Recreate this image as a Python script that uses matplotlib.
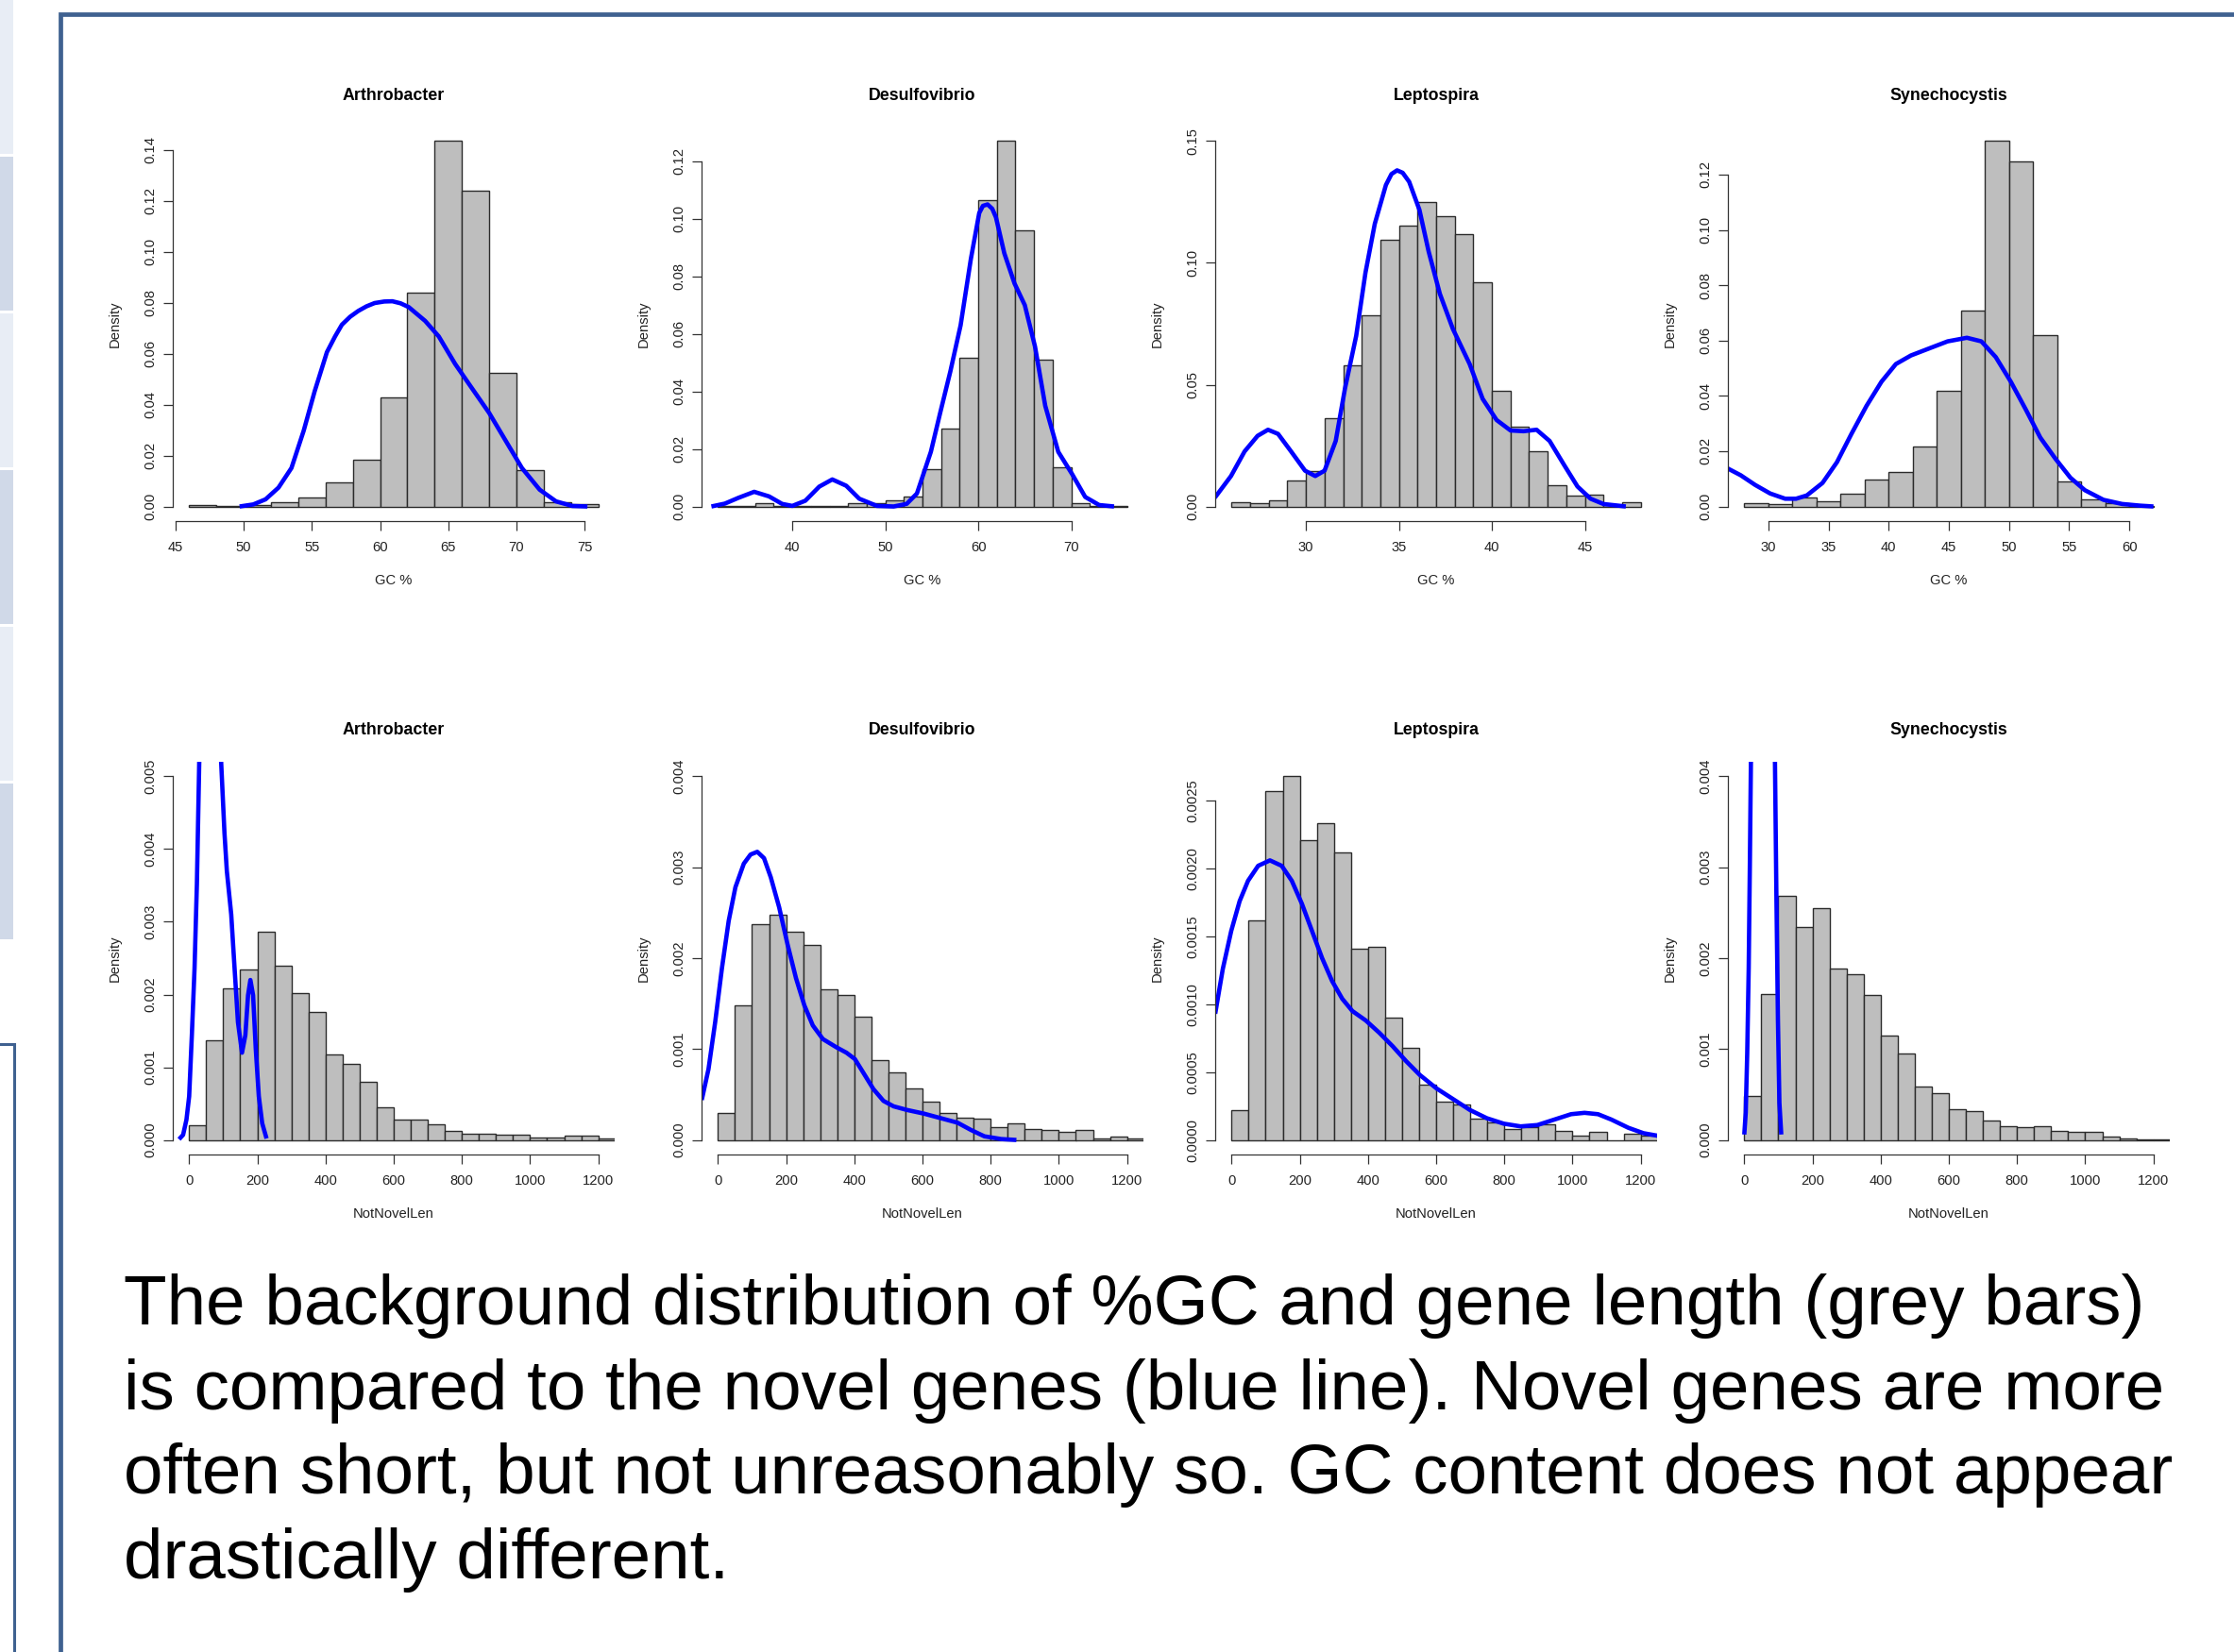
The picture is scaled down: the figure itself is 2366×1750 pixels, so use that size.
import matplotlib
matplotlib.use('Agg')
import matplotlib.pyplot as plt
from matplotlib.patches import Rectangle

plt.rcParams['font.family'] = ['Liberation Sans', 'DejaVu Sans']

W, H = 2366, 1750

organisms = ['Arthrobacter', 'Desulfovibrio', 'Leptospira', 'Synechocystis']

# ---------------- GC % (top row) ----------------
arth_gc_start, arth_gc_bin = 46, 2
arth_gc_dens = [0.0005, 0.0002, 0.0005, 0.0018, 0.0034, 0.0094, 0.0183, 0.0427,
                0.084, 0.1435, 0.124, 0.0526, 0.0143, 0.0017, 0.0008]
arth_gc_nov_x = [49.7, 50.7, 51.6, 52.55, 53.5, 54.4, 55.2, 56.1, 56.7, 57.2, 57.8,
                 58.4, 59.0, 59.6, 60.3, 60.9, 61.5, 62.1, 63.3, 64.3, 65.5, 66.7,
                 68.0, 69.2, 70.4, 71.7, 72.9, 74.1, 75.2]
arth_gc_nov_y = [0, 0.0008, 0.0028, 0.0074, 0.0151, 0.0298, 0.0452, 0.0606, 0.0668,
                 0.0714, 0.0745, 0.0768, 0.0786, 0.0799, 0.0805, 0.0806, 0.0798,
                 0.0783, 0.0729, 0.0668, 0.056, 0.0467, 0.0367, 0.0259, 0.0151,
                 0.0066, 0.002, 0.0002, 0]

desu_gc_start, desu_gc_bin = 32, 2
desu_gc_dens = [0.0001, 0.0003, 0.001, 0.0003, 0.0003, 0.0003, 0.0002, 0.001,
                0.0012, 0.0023, 0.0035, 0.013, 0.0272, 0.0517, 0.1065, 0.127,
                0.096, 0.051, 0.0136, 0.0011, 0.0002, 0.0003]
desu_gc_nov_x = [31.3, 32.75, 34.2, 35.9, 37.5, 38.9, 40.0, 41.4, 42.9, 44.3, 45.8,
                 47.2, 49.1, 50.9, 52.3, 53.4, 54.9, 55.9, 57.0, 58.1, 59.2, 60.1,
                 60.5, 61.0, 61.5, 61.9, 62.8, 63.9, 65.0, 66.1, 67.2, 68.6, 70.1,
                 71.5, 73.0, 74.6]
desu_gc_nov_y = [0, 0.001, 0.003, 0.0051, 0.0035, 0.0009, 0.0002, 0.002, 0.0069,
                 0.0094, 0.0072, 0.0027, 0.0002, 0.0, 0.0009, 0.0045, 0.019, 0.0325,
                 0.047, 0.063, 0.086, 0.102, 0.1045, 0.105, 0.1035, 0.1005, 0.088,
                 0.0775, 0.070, 0.0556, 0.035, 0.019, 0.0112, 0.0033, 0.0005, 0]

lept_gc_start, lept_gc_bin = 26, 1
lept_gc_dens = [0.0017, 0.0013, 0.0027, 0.0106, 0.0144, 0.0364, 0.058, 0.0784,
                0.1094, 0.1152, 0.125, 0.119, 0.1117, 0.0919, 0.0473, 0.0329,
                0.0226, 0.0089, 0.0046, 0.0047, 0.0004, 0.0017]
lept_gc_nov_x = [25.1, 25.97, 26.7, 27.4, 27.96, 28.5, 29.2, 29.95, 30.5, 31.0, 31.6,
                 32.1, 32.7, 33.2, 33.7, 34.3, 34.6, 34.9, 35.2, 35.55, 36.1, 36.6,
                 37.2, 37.9, 38.8, 39.5, 40.25, 41.0, 41.7, 42.4, 43.1, 43.9, 44.6,
                 45.3, 46.0, 47.2]
lept_gc_nov_y = [0.0036, 0.0125, 0.0226, 0.029, 0.0315, 0.0298, 0.0226, 0.0147,
                 0.0125, 0.0147, 0.0269, 0.0485, 0.070, 0.096, 0.116, 0.132, 0.1365,
                 0.138, 0.137, 0.1333, 0.1218, 0.1046, 0.0873, 0.0729, 0.0585,
                 0.0442, 0.0355, 0.0312, 0.0309, 0.0315, 0.0269, 0.0168, 0.0082,
                 0.0032, 0.001, 0]

syne_gc_start, syne_gc_bin = 28, 2
syne_gc_dens = [0.0013, 0.001, 0.0032, 0.002, 0.0047, 0.0099, 0.0123, 0.0217,
                0.0419, 0.0709, 0.1321, 0.1249, 0.062, 0.009, 0.0025, 0.0013, 0.0003]
syne_gc_nov_x = [26.6, 27.7, 28.9, 30.15, 31.4, 32.3, 33.2, 34.5, 35.7, 36.9, 38.15,
                 39.4, 40.6, 41.85, 43.4, 44.9, 46.5, 47.7, 48.9, 50.15, 51.4, 52.6,
                 53.85, 55.1, 56.3, 57.85, 59.4, 60.9, 62.0]
syne_gc_nov_y = [0.0138, 0.0113, 0.0078, 0.0047, 0.0028, 0.0028, 0.004, 0.0085,
                 0.016, 0.0262, 0.0363, 0.0451, 0.0515, 0.0546, 0.0572, 0.0597,
                 0.061, 0.0597, 0.054, 0.0451, 0.035, 0.0249, 0.0173, 0.0104,
                 0.0059, 0.0024, 0.0009, 0.0003, 0]

# ---------------- NotNovelLen (bottom row) ----------------
len_start, len_bin = 0, 50

arth_len_dens = [0.0002, 0.00137, 0.00209, 0.00234, 0.00286, 0.0024, 0.00202,
                 0.00176, 0.00117, 0.00104, 0.0008, 0.00045, 0.00028, 0.00028,
                 0.00022, 0.000125, 0.00009, 0.00009, 0.00007, 0.000075, 0.00003,
                 0.00003, 0.000055, 0.00006, 0.00002]
arth_len_nov_x = [-29.6, -17.8, -7.9, 0, 7.9, 15.8, 22.7, 29.6, 45, 60, 75, 93.8,
                  103.6, 110.5, 123.4, 133.2, 143.1, 155, 164.8, 172.7, 179.6,
                  187.5, 195.4, 204.3, 214.2, 227]
arth_len_nov_y = [0.00001, 0.00007, 0.00028, 0.0006, 0.00144, 0.00236, 0.00352,
                  0.00521, 0.0072, 0.0078, 0.0068, 0.0052, 0.00422, 0.0037, 0.0031,
                  0.00236, 0.00162, 0.0012, 0.00144, 0.00199, 0.0022, 0.00199,
                  0.00125, 0.0006, 0.00023, 0.00002]

desu_len_dens = [0.0003, 0.00148, 0.00237, 0.00248, 0.00229, 0.00215, 0.00166,
                 0.00159, 0.00136, 0.00088, 0.00074, 0.00057, 0.00042, 0.0003,
                 0.00025, 0.00023, 0.00014, 0.00018, 0.00012, 0.00011, 0.000085,
                 0.00011, 0.00002, 0.00004, 0.00002]
desu_len_nov_x = [-47.4, -27.6, -7.9, 11.8, 31.6, 51.3, 76, 95.7, 115.5, 135.2, 155,
                  179.6, 204.3, 229, 253.6, 278.3, 307.9, 347.4, 377, 401.7, 426.4,
                  456, 485.5, 515.2, 554.6, 604, 653.3, 702.7, 742.2, 781.6, 831,
                  875.4]
desu_len_nov_y = [0.00044, 0.00078, 0.0013, 0.00189, 0.00241, 0.00278, 0.00304,
                  0.00314, 0.00317, 0.0031, 0.00289, 0.00256, 0.00215, 0.00178,
                  0.00148, 0.00126, 0.00111, 0.00102, 0.00096, 0.00089, 0.00074,
                  0.00056, 0.00043, 0.00037, 0.00033, 0.00029, 0.00024, 0.00019,
                  0.00011, 0.00004, 0.00001, 0]

lept_len_dens = [0.000218, 0.00162, 0.002574, 0.002679, 0.002212, 0.002331,
                 0.002116, 0.001409, 0.001421, 0.000898, 0.00068, 0.000407,
                 0.000285, 0.00026, 0.000154, 0.000129, 0.000084, 0.000094,
                 0.000114, 0.000067, 0.00003, 0.000057, 0.0, 0.000045, 0.00003]
lept_len_nov_x = [-48, -25.7, -1, 23.7, 48.4, 78, 112.5, 147, 176.6, 206.3, 235.9,
                  265.5, 295, 324.7, 354.3, 393.8, 433.2, 472.7, 512.2, 551.7, 601,
                  650.3, 699.7, 749, 798.4, 847.7, 897, 946.4, 995.7, 1035.2,
                  1074.7, 1114.2, 1163.5, 1208, 1252]
lept_len_nov_y = [0.00093, 0.00126, 0.00154, 0.00176, 0.00191, 0.00202, 0.00206,
                  0.00202, 0.00191, 0.00174, 0.00154, 0.00134, 0.00117, 0.00104,
                  0.00095, 0.00088, 0.00079, 0.00069, 0.00058, 0.00048, 0.00038,
                  0.0003, 0.00022, 0.00016, 0.00012, 0.0001, 0.00011, 0.00015,
                  0.00019, 0.0002, 0.00019, 0.00015, 0.00009, 0.00005, 0.00003]

syne_len_dens = [0.00048, 0.00161, 0.00269, 0.00234, 0.00255, 0.00189, 0.00182,
                 0.00159, 0.00115, 0.00095, 0.00059, 0.00051, 0.00034, 0.00032,
                 0.00021, 0.00015, 0.00014, 0.00015, 0.0001, 0.000085, 0.000085,
                 0.00004, 0.00002, 0.000005, 0.000005]
syne_len_nov_x = [0, 4.3, 8.7, 13, 16.3, 19.5, 30, 55, 80, 90, 94.4, 98.7, 103, 108.5]
syne_len_nov_y = [0.00006, 0.0003, 0.00096, 0.00189, 0.003, 0.00417, 0.0075, 0.0105,
                  0.0075, 0.00417, 0.00263, 0.00133, 0.00041, 0.00006]

# axis ticks and labels (R-style)
gc_xticks = [[45, 50, 55, 60, 65, 70, 75], [40, 50, 60, 70],
             [30, 35, 40, 45], [30, 35, 40, 45, 50, 55, 60]]
gc_yticks = [[0, 0.02, 0.04, 0.06, 0.08, 0.10, 0.12, 0.14],
             [0, 0.02, 0.04, 0.06, 0.08, 0.10, 0.12],
             [0, 0.05, 0.10, 0.15],
             [0, 0.02, 0.04, 0.06, 0.08, 0.10, 0.12]]
gc_ylabels = [['0.00', '0.02', '0.04', '0.06', '0.08', '0.10', '0.12', '0.14'],
              ['0.00', '0.02', '0.04', '0.06', '0.08', '0.10', '0.12'],
              ['0.00', '0.05', '0.10', '0.15'],
              ['0.00', '0.02', '0.04', '0.06', '0.08', '0.10', '0.12']]
gc_ytop = [0.1435, 0.127, 0.15, 0.1321]

len_xticks = [0, 200, 400, 600, 800, 1000, 1200]
len_xlim = (0, 1200)
len_yticks = [[0, 0.001, 0.002, 0.003, 0.004, 0.005],
              [0, 0.001, 0.002, 0.003, 0.004],
              [0, 0.0005, 0.001, 0.0015, 0.002, 0.0025],
              [0, 0.001, 0.002, 0.003, 0.004]]
len_ylabels = [['0.000', '0.001', '0.002', '0.003', '0.004', '0.005'],
               ['0.000', '0.001', '0.002', '0.003', '0.004'],
               ['0.0000', '0.0005', '0.0010', '0.0015', '0.0020', '0.0025'],
               ['0.000', '0.001', '0.002', '0.003', '0.004']]
len_ytop = [0.005, 0.004, 0.002679, 0.004]

caption = ["The background distribution of %GC and gene length (grey bars)",
           "is compared to the novel genes (blue line). Novel genes are more",
           "often short, but not unreasonably so. GC content does not appear",
           "drastically different."]

gc_panels = [
    (arth_gc_start, arth_gc_bin, arth_gc_dens, arth_gc_nov_x, arth_gc_nov_y),
    (desu_gc_start, desu_gc_bin, desu_gc_dens, desu_gc_nov_x, desu_gc_nov_y),
    (lept_gc_start, lept_gc_bin, lept_gc_dens, lept_gc_nov_x, lept_gc_nov_y),
    (syne_gc_start, syne_gc_bin, syne_gc_dens, syne_gc_nov_x, syne_gc_nov_y),
]
len_panels = [
    (arth_len_dens, arth_len_nov_x, arth_len_nov_y),
    (desu_len_dens, desu_len_nov_x, desu_len_nov_y),
    (lept_len_dens, lept_len_nov_x, lept_len_nov_y),
    (syne_len_dens, syne_len_nov_x, syne_len_nov_y),
]

fig = plt.figure(figsize=(W / 100, H / 100), dpi=100)
fig.patch.set_facecolor('white')

# slide decoration layer in pixel coordinates
bg = fig.add_axes([0, 0, 1, 1], zorder=-5)
bg.set_xlim(0, W)
bg.set_ylim(H, 0)
bg.axis('off')
frame_col = '#3f6190'
strips = [(0, 163), (166, 329), (332, 495), (498, 661), (664, 827), (830, 995)]
for i, (y0, y1) in enumerate(strips):
    bg.add_patch(Rectangle((0, y0), 14, y1 - y0, lw=0,
                           color='#e8edf5' if i % 2 == 0 else '#d0d9e8'))
bg.plot([W + 5, 64, 64], [15, 15, H + 5], color=frame_col, lw=3.4,
        solid_joinstyle='miter')
bg.plot([-5, 15, 15], [1106, 1106, H + 5], color=frame_col, lw=2.2,
        solid_joinstyle='miter')
for i, line in enumerate(caption):
    bg.text(131, 1403 + i * 89.6, line, fontsize=53.7, color='black',
            ha='left', va='baseline')

lefts = [183, 743, 1287, 1830]
pw = 468
rows = [(134, 418), (807, 416)]


def style_axes(ax, xticks, yticks, ylabels, xlabel, ph):
    for s in ['top', 'right']:
        ax.spines[s].set_visible(False)
    for s in ['left', 'bottom']:
        ax.spines[s].set_color('#333333')
        ax.spines[s].set_linewidth(0.9)
    ax.spines['left'].set_bounds(yticks[0], yticks[-1])
    ax.spines['bottom'].set_bounds(xticks[0], xticks[-1])
    ax.set_xticks(xticks, labels=[str(t) for t in xticks])
    ax.set_yticks(yticks, labels=ylabels)
    ax.tick_params(axis='both', direction='out', length=7.2, width=0.9,
                   color='#333333', labelsize=10.6, labelcolor='#222222')
    ax.tick_params(axis='x', pad=8)
    ax.tick_params(axis='y', pad=5)
    for lab in ax.get_yticklabels():
        lab.set_rotation(90)
        lab.set_va('center')
    ax.set_ylabel('Density', fontsize=10.6, color='#222222', va='center')
    ax.yaxis.set_label_coords(-61 / pw, 0.5)
    ax.set_xlabel(xlabel, fontsize=10.6, color='#222222', va='center')
    ax.xaxis.set_label_coords(0.5, -63 / ph)


for i in range(4):
    # GC row
    top, ph = rows[0]
    ax = fig.add_axes([lefts[i] / W, 1 - (top + ph) / H, pw / W, ph / H])
    start, bw, dens, nx, ny = gc_panels[i]
    edges = [start + k * bw for k in range(len(dens))]
    ax.bar(edges, dens, width=bw, align='edge', color='#bebebe',
           edgecolor='#2b2b2b', linewidth=1.0)
    ax.plot(nx, ny, color='#0000ff', lw=3.3, solid_capstyle='butt',
            solid_joinstyle='round')
    lo, hi = start, start + bw * len(dens)
    ax.set_xlim(lo - 0.04 * (hi - lo), hi + 0.04 * (hi - lo))
    yt = gc_ytop[i]
    ax.set_ylim(-0.04 * yt, 1.04 * yt)
    style_axes(ax, gc_xticks[i], gc_yticks[i], gc_ylabels[i], 'GC %', ph)
    ax.set_title(organisms[i], fontsize=12.8, fontweight='bold', va='center',
                 y=1 + 24 / ph)

    # length row
    top, ph = rows[1]
    ax = fig.add_axes([lefts[i] / W, 1 - (top + ph) / H, pw / W, ph / H])
    dens, nx, ny = len_panels[i]
    edges = [len_start + k * len_bin for k in range(len(dens))]
    ax.bar(edges, dens, width=len_bin, align='edge', color='#bebebe',
           edgecolor='#2b2b2b', linewidth=1.0)
    ax.plot(nx, ny, color='#0000ff', lw=3.3, solid_capstyle='butt',
            solid_joinstyle='round')
    lo, hi = len_xlim
    ax.set_xlim(lo - 0.04 * (hi - lo), hi + 0.04 * (hi - lo))
    yt = len_ytop[i]
    ax.set_ylim(-0.04 * yt, 1.04 * yt)
    style_axes(ax, len_xticks, len_yticks[i], len_ylabels[i], 'NotNovelLen', ph)
    ax.set_title(organisms[i], fontsize=12.8, fontweight='bold', va='center',
                 y=1 + 25 / ph)

fig.savefig('out.png', dpi=100, facecolor='white')
